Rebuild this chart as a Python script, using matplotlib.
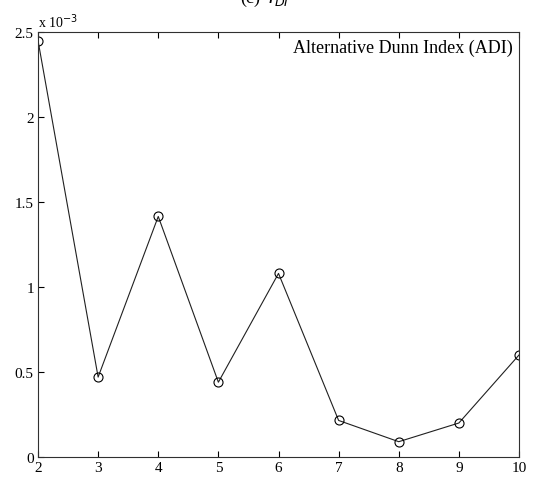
import numpy as np
import matplotlib
matplotlib.use("Agg")
import matplotlib.pyplot as plt

plt.rcParams["font.family"] = ["Liberation Serif", "DejaVu Serif"]

# number of clusters vs. alternative Dunn index
n_clusters = [2, 3, 4, 5, 6, 7, 8, 9, 10]
adi_values = [2.45e-3, 0.47e-3, 1.415e-3, 0.44e-3, 1.08e-3, 0.215e-3, 0.09e-3, 0.20e-3, 0.60e-3]
y_ticks = [0, 0.5, 1, 1.5, 2, 2.5]
y_tick_labels = ["0", "0.5", "1", "1.5", "2", "2.5"]

fig = plt.figure(figsize=(5.35, 4.81), dpi=100)
ax = fig.add_axes([38 / 535, 23 / 481, 481 / 535, 425 / 481])

scaled = np.array(adi_values) * 1e3
ax.plot(n_clusters, scaled, color="#202020", linewidth=0.8,
        marker="o", markersize=6.5, markerfacecolor="none",
        markeredgecolor="black", markeredgewidth=0.8,
        label="Alternative Dunn Index (ADI)")

ax.set_xlim(2, 10)
ax.set_ylim(0, 2.5)
ax.set_xticks(n_clusters)
ax.set_yticks(y_ticks)
ax.set_yticklabels(y_tick_labels)
ax.tick_params(direction="in", length=4, width=0.8, labelsize=11,
               top=True, right=False, pad=3)
for side in ax.spines.values():
    side.set_linewidth(0.8)
    side.set_color("#303030")

ax.legend(loc="upper right", frameon=False, fontsize=13,
          handlelength=0, handletextpad=0, markerscale=0,
          borderaxespad=0.15, borderpad=0.2)

ax.text(0.0, 1.005, "x 10$^{-3}$", transform=ax.transAxes,
        fontsize=10, ha="left", va="bottom")

# panel caption sits above the canvas; only its lower edge shows
fig.text(0.495, 1.0 - 2.5 / 481, "(c)  $I_{DI}$", fontsize=13,
         ha="center", va="baseline")

fig.savefig("out.png", dpi=100)
